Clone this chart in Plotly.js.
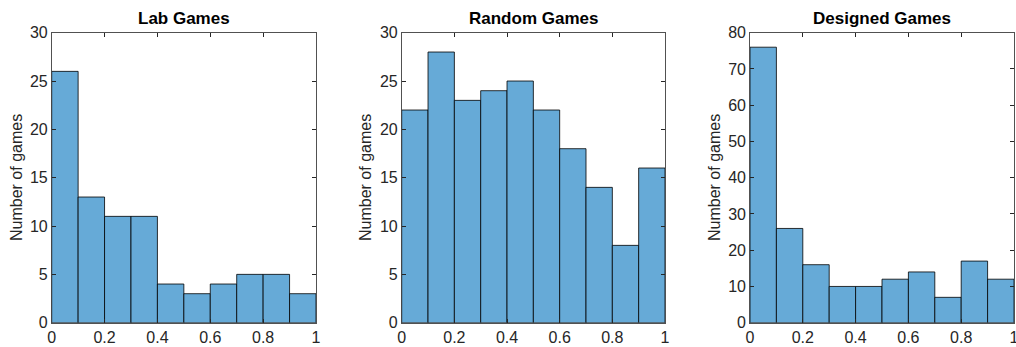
<!DOCTYPE html>
<html>
<head>
<meta charset="utf-8">
<script src="https://cdn.plot.ly/plotly-3.0.1.min.js"></script>
<style>html,body{margin:0;padding:0;background:#fff;}#chart{width:1016px;height:347px;}</style>
</head>
<body>
<div id="chart"></div>
<script>
// Data
const binCenters = [0.05, 0.15, 0.25, 0.35, 0.45, 0.55, 0.65, 0.75, 0.85, 0.95];
const labGames = [26, 13, 11, 11, 4, 3, 4, 5, 5, 3];
const randomGames = [22, 28, 23, 24, 25, 22, 18, 14, 8, 16];
const designedGames = [76, 26, 16, 10, 10, 12, 14, 7, 17, 12];
const panelTitles = ["Lab Games", "Random Games", "Designed Games"];
const yTitle = "Number of games";
const xTickVals = [0, 0.2, 0.4, 0.6, 0.8, 1];
const xTickText = ["0", "0.2", "0.4", "0.6", "0.8", "1"];
const yRanges = [[0, 30], [0, 30], [0, 80]];
const yDtick = [5, 5, 10];

const series = [labGames, randomGames, designedGames];
const axisColor = "#262626";
const fontFam = "Liberation Sans, Arial, Helvetica, sans-serif";

const traces = series.map((vals, i) => ({
  type: "bar",
  x: binCenters,
  y: vals,
  width: 0.1,
  xaxis: i === 0 ? "x" : "x" + (i + 1),
  yaxis: i === 0 ? "y" : "y" + (i + 1),
  marker: { color: "rgb(102,170,215)", line: { color: "#000000", width: 0.8 } },
  showlegend: false,
  hoverinfo: "x+y"
}));

const H = 347, W = 1016;
const xDomains = [[51.7 / W, 316 / W], [401.7 / W, 665 / W], [750 / W, 1014 / W]];
const yDomain = [(H - 322.7) / H, (H - 32.7) / H];

const layout = {
  width: W, height: H,
  margin: { l: 0, r: 0, t: 0, b: 0 },
  paper_bgcolor: "#ffffff",
  plot_bgcolor: "#ffffff",
  font: { family: fontFam, size: 15, color: axisColor },
  bargap: 0,
  annotations: []
};

const ylabelX = [16, 365, 714];
for (let i = 0; i < 3; i++) {
  const sx = i === 0 ? "" : String(i + 1);
  layout["xaxis" + sx] = {
    domain: xDomains[i],
    anchor: "y" + sx,
    range: [0, 1],
    tickvals: xTickVals,
    ticktext: xTickText,
    ticks: "inside",
    ticklen: 4,
    tickcolor: axisColor,
    showline: true,
    linecolor: axisColor,
    linewidth: 0.8,
    mirror: "ticks",
    showgrid: false,
    zeroline: false,
    ticklabeloverflow: "allow",
    tickfont: { family: fontFam, size: 16, color: axisColor },
    fixedrange: true
  };
  layout["yaxis" + sx] = {
    domain: yDomain,
    anchor: "x" + sx,
    range: yRanges[i],
    dtick: yDtick[i],
    tick0: 0,
    ticks: "inside",
    ticklen: 4,
    tickcolor: axisColor,
    showline: true,
    linecolor: axisColor,
    linewidth: 0.8,
    mirror: "ticks",
    showgrid: false,
    zeroline: false,
    tickfont: { family: fontFam, size: 16, color: axisColor },
    fixedrange: true
  };
  layout.annotations.push({
    text: "<b>" + panelTitles[i] + "</b>",
    xref: "paper", yref: "paper",
    x: (xDomains[i][0] + xDomains[i][1]) / 2,
    y: (H - 18) / H,
    xanchor: "center", yanchor: "middle",
    showarrow: false,
    font: { family: fontFam, size: 17, color: "#000000" }
  });
  layout.annotations.push({
    text: yTitle,
    xref: "paper", yref: "paper",
    x: ylabelX[i] / W,
    y: (H - 178) / H,
    xanchor: "center", yanchor: "middle",
    textangle: -90,
    showarrow: false,
    font: { family: fontFam, size: 16, color: axisColor }
  });
}

Plotly.newPlot("chart", traces, layout, { displayModeBar: false, staticPlot: true });
</script>
</body>
</html>
